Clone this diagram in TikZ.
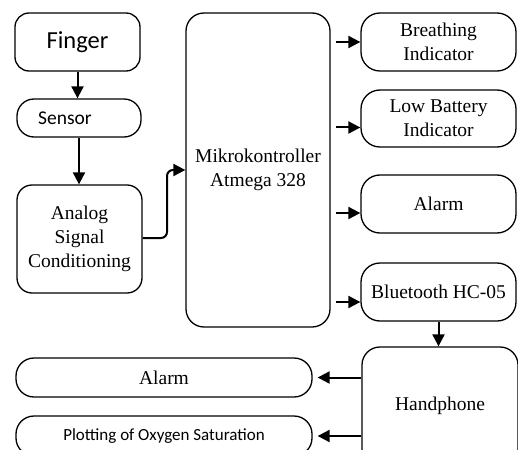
\documentclass[tikz,border=0pt]{standalone}
\usepackage{fontspec}
\setmainfont{Liberation Serif}
\newfontfamily\calibri{Carlito}
\usetikzlibrary{arrows.meta,calc}
\tikzset{
  box/.style={draw=black, line width=1.3pt, align=center, inner sep=0pt, font=\fontsize{19.5}{24}\selectfont},
  arr/.style={line width=2pt, -{Triangle[length=12pt,width=12pt]}},
}
\begin{document}
\begin{tikzpicture}[x=1pt,y=-1pt]
\useasboundingbox (0,0) rectangle (518,449);
\clip (0,0) rectangle (518,449);
% left column
\node[box, rounded corners=14pt, minimum width=125pt, minimum height=58pt, font=\calibri\fontsize{24.5}{28}\selectfont] (finger) at (77.5,42) {Finger};
\node[box, rounded corners=17pt, minimum width=124pt, minimum height=38pt, font=\calibri\fontsize{19.5}{22}\selectfont] (sensor) at (79,118) {\hspace*{-28pt}Sensor};
\node[box, rounded corners=15pt, minimum width=125pt, minimum height=108pt] (asc) at (79.5,239) {Analog\\Signal\\Conditioning};
% microcontroller
\node[box, rounded corners=18pt, minimum width=144pt, minimum height=314pt] (mcu) at (258,170) {Mikrokontroller\\Atmega 328};
% right column
\node[box, rounded corners=19pt, minimum width=155pt, minimum height=58pt] (bi) at (438.5,42) {Breathing\\Indicator};
\node[box, rounded corners=19pt, minimum width=155pt, minimum height=57pt] (lb) at (438.5,118.5) {Low Battery\\Indicator};
\node[box, rounded corners=19pt, minimum width=155pt, minimum height=58pt] (al) at (438.5,204) {Alarm};
\node[box, rounded corners=19pt, minimum width=155pt, minimum height=58pt] (bt) at (438.5,292) {Bluetooth HC-05};
% bottom
\node[box, rounded corners=18pt, minimum width=156pt, minimum height=123pt] (hp) at (440,408.5) {\raisebox{9pt}{Handphone}};
\node[box, rounded corners=18pt, minimum width=296pt, minimum height=39pt] (al2) at (164,377.5) {Alarm};
\node[box, rounded corners=18pt, minimum width=296pt, minimum height=40pt, font=\calibri\fontsize{17}{20}\selectfont] (plot) at (164,436) {Plotting of Oxygen Saturation};
% connectors
\draw[arr] (finger.south) -- (finger.south |- sensor.north);
\draw[arr] (sensor.south) -- (sensor.south |- asc.north);
\draw[arr, rounded corners=6pt] (asc.east |- 0,238) -- (167,238) -- (167,170) -- (mcu.west |- 0,170);
\draw[arr] ([xshift=5pt]mcu.east |- bi.west) -- (bi.west);
\draw[arr] ($([xshift=5pt]mcu.east |- lb.west)+(0,9)$) -- ($(lb.west)+(0,9)$);
\draw[arr] ($([xshift=5pt]mcu.east |- al.west)+(0,9)$) -- ($(al.west)+(0,9)$);
\draw[arr] ($([xshift=5pt]mcu.east |- bt.west)+(0,10)$) -- ($(bt.west)+(0,10)$);
\draw[arr] (bt.south) -- (bt.south |- hp.north);
\draw[arr, shorten >=5pt] (hp.west |- al2.east) -- (al2.east);
\draw[arr, shorten >=5pt] (hp.west |- plot.east) -- (plot.east);
\end{tikzpicture}
\end{document}
